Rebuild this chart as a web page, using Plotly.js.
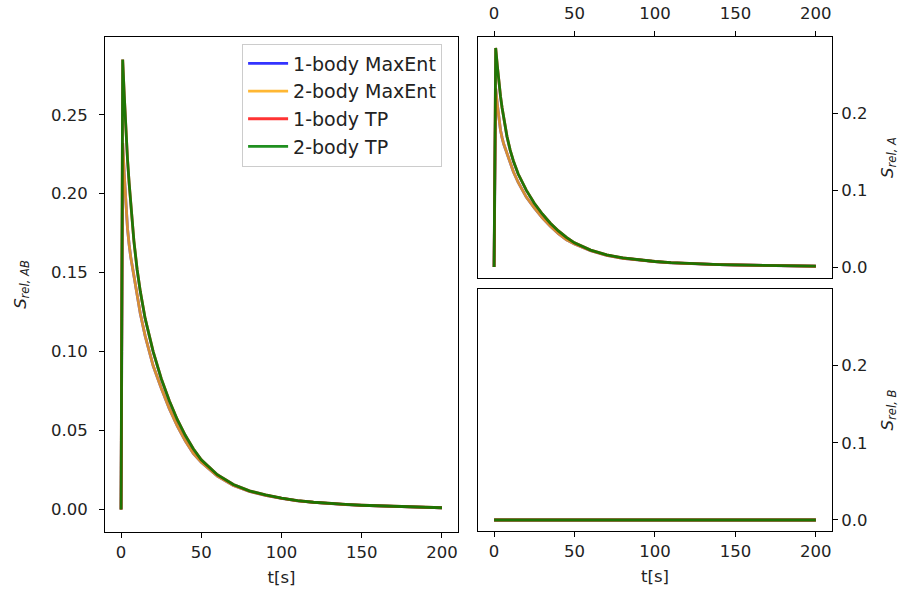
<!DOCTYPE html>
<html>
<head>
<meta charset="utf-8">
<script src="https://cdn.plot.ly/plotly-3.0.1.min.js"></script>
<style>html,body{margin:0;padding:0;background:#fff;}#chart{width:900px;height:596px;}</style>
</head>
<body>
<div id="chart"></div>
<script>
// time samples [s]
const t = [0,1,2,3,4,5,6,8,10,12,15,20,25,30,35,40,45,50,60,70,80,90,100,110,120,130,140,150,160,170,180,190,200];

// S_rel,AB (left panel)
const abMaxEnt1 = [0,0.232,0.212,0.194,0.178,0.168,0.160,0.148,0.135,0.124,0.110,0.091,0.077,0.064,0.053,0.0435,0.0355,0.030,0.0212,0.0152,0.0114,0.0089,0.0070,0.0055,0.0045,0.0037,0.0031,0.0026,0.0022,0.0018,0.0015,0.0012,0.0010];
const abMaxEnt2 = [0,0.232,0.212,0.194,0.178,0.168,0.160,0.148,0.135,0.124,0.110,0.091,0.077,0.064,0.053,0.0435,0.0355,0.030,0.0212,0.0152,0.0114,0.0089,0.0070,0.0055,0.0045,0.0037,0.0031,0.0026,0.0022,0.0018,0.0015,0.0012,0.0010];
const abTP1 = [0,0.285,0.262,0.240,0.222,0.207,0.193,0.170,0.152,0.138,0.121,0.100,0.083,0.069,0.057,0.047,0.0385,0.0315,0.022,0.0158,0.0118,0.0092,0.0072,0.0056,0.0046,0.0038,0.0032,0.0027,0.0023,0.0019,0.0016,0.0013,0.0011];
const abTP2 = [0,0.285,0.262,0.240,0.222,0.207,0.193,0.170,0.152,0.138,0.121,0.100,0.083,0.069,0.057,0.047,0.0385,0.0315,0.022,0.0158,0.0118,0.0092,0.0072,0.0056,0.0046,0.0038,0.0032,0.0027,0.0023,0.0019,0.0016,0.0013,0.0011];

// S_rel,A (top-right panel)
const aMaxEnt1 = [0,0.232,0.212,0.194,0.178,0.168,0.160,0.148,0.135,0.124,0.110,0.091,0.077,0.064,0.053,0.0435,0.0355,0.030,0.0212,0.0152,0.0114,0.0089,0.0070,0.0055,0.0045,0.0037,0.0031,0.0026,0.0022,0.0018,0.0015,0.0012,0.0010];
const aMaxEnt2 = [0,0.232,0.212,0.194,0.178,0.168,0.160,0.148,0.135,0.124,0.110,0.091,0.077,0.064,0.053,0.0435,0.0355,0.030,0.0212,0.0152,0.0114,0.0089,0.0070,0.0055,0.0045,0.0037,0.0031,0.0026,0.0022,0.0018,0.0015,0.0012,0.0010];
const aTP1 = [0,0.285,0.262,0.240,0.222,0.207,0.193,0.170,0.152,0.138,0.121,0.100,0.083,0.069,0.057,0.047,0.0385,0.0315,0.022,0.0158,0.0118,0.0092,0.0072,0.0056,0.0046,0.0038,0.0032,0.0027,0.0023,0.0019,0.0016,0.0013,0.0011];
const aTP2 = [0,0.285,0.262,0.240,0.222,0.207,0.193,0.170,0.152,0.138,0.121,0.100,0.083,0.069,0.057,0.047,0.0385,0.0315,0.022,0.0158,0.0118,0.0092,0.0072,0.0056,0.0046,0.0038,0.0032,0.0027,0.0023,0.0019,0.0016,0.0013,0.0011];

// S_rel,B (bottom-right panel)
const bMaxEnt1 = [0,0,0,0,0,0,0,0,0,0,0,0,0,0,0,0,0,0,0,0,0,0,0,0,0,0,0,0,0,0,0,0,0];
const bMaxEnt2 = [0,0,0,0,0,0,0,0,0,0,0,0,0,0,0,0,0,0,0,0,0,0,0,0,0,0,0,0,0,0,0,0,0];
const bTP1 = [0,0,0,0,0,0,0,0,0,0,0,0,0,0,0,0,0,0,0,0,0,0,0,0,0,0,0,0,0,0,0,0,0];
const bTP2 = [0,0,0,0,0,0,0,0,0,0,0,0,0,0,0,0,0,0,0,0,0,0,0,0,0,0,0,0,0,0,0,0,0];

const seriesNames = ['1-body MaxEnt','2-body MaxEnt','1-body TP','2-body TP'];
const seriesColors = ['#0000ff','#ffa500','#ff0000','#008000'];
const seriesOpacity = [0.8, 0.8, 0.8, 0.88];

const panels = [
  {x:'x', y:'y', data:[abMaxEnt1, abMaxEnt2, abTP1, abTP2], legend:true},
  {x:'x2', y:'y2', data:[aMaxEnt1, aMaxEnt2, aTP1, aTP2], legend:false},
  {x:'x3', y:'y3', data:[bMaxEnt1, bMaxEnt2, bTP1, bTP2], legend:false}
];

const traces = [];
panels.forEach(p => {
  p.data.forEach((vals, i) => {
    traces.push({
      x: t, y: vals, xaxis: p.x, yaxis: p.y,
      type: 'scatter', mode: 'lines',
      name: seriesNames[i],
      legendgroup: 'g' + i,
      showlegend: p.legend,
      opacity: seriesOpacity[i],
      line: {color: seriesColors[i], width: 2.8}
    });
  });
});

const tickFont = {family: 'DejaVu Sans', size: 16.5, color: '#222'};
const titleFont = {family: 'DejaVu Sans', size: 16.5, color: '#222'};
const xr = [-10, 210];
const yr = [-0.01425, 0.29925];

function xax(domain, anchor, side, title, lblOff) {
  const a = {
    domain: domain, anchor: anchor, range: xr, side: side,
    tickvals: [0,50,100,150,200], ticks: 'outside', ticklen: 5, tickwidth: 1, tickcolor: '#000',
    ticklabelstandoff: lblOff,
    showline: true, linecolor: '#000', linewidth: 1, mirror: true,
    showgrid: false, zeroline: false, tickfont: tickFont, automargin: false
  };
  if (title) a.title = {text: title, font: titleFont, standoff: 10};
  return a;
}
function yax(domain, anchor, side, tv, fmt, title, lblOff, so) {
  return {
    domain: domain, anchor: anchor, range: yr, side: side,
    tickvals: tv, tickformat: fmt, ticks: 'outside', ticklen: 5, tickwidth: 1, tickcolor: '#000',
    ticklabelstandoff: lblOff,
    showline: true, linecolor: '#000', linewidth: 1, mirror: true,
    showgrid: false, zeroline: false, tickfont: tickFont, automargin: false,
    title: {text: title, font: titleFont, standoff: so}
  };
}

const layout = {
  width: 900, height: 596,
  margin: {l: 0, r: 0, t: 0, b: 0},
  paper_bgcolor: '#fff', plot_bgcolor: '#fff',
  showlegend: true,
  xaxis: xax([0.1167, 0.5089], 'y', 'bottom', 't[s]', 0),
  yaxis: yax([0.1074, 0.9379], 'x', 'left', [0,0.05,0.10,0.15,0.20,0.25], '.2f', '<i>S</i><sub><i>rel, AB</i></sub>', 8, 20),
  xaxis2: xax([0.5311, 0.9244], 'y2', 'top', null, 5),
  yaxis2: yax([0.5336, 0.9379], 'x2', 'right', [0,0.1,0.2], '.1f', '<i>S</i><sub><i>rel, A</i></sub>', 0, 14),
  xaxis3: xax([0.5311, 0.9244], 'y3', 'bottom', 't[s]', 0),
  yaxis3: yax([0.1091, 0.5151], 'x3', 'right', [0,0.1,0.2], '.1f', '<i>S</i><sub><i>rel, B</i></sub>', 0, 14),
  legend: {
    x: 0.269, y: 0.927, xanchor: 'left', yanchor: 'top',
    bgcolor: 'rgba(255,255,255,0.8)', bordercolor: '#cccccc', borderwidth: 1,
    font: {family: 'DejaVu Sans', size: 19, color: '#222'},
    itemwidth: 40, tracegroupgap: 4, traceorder: 'normal'
  }
};

Plotly.newPlot('chart', traces, layout, {displayModeBar: false, staticPlot: true});
</script>
</body>
</html>
